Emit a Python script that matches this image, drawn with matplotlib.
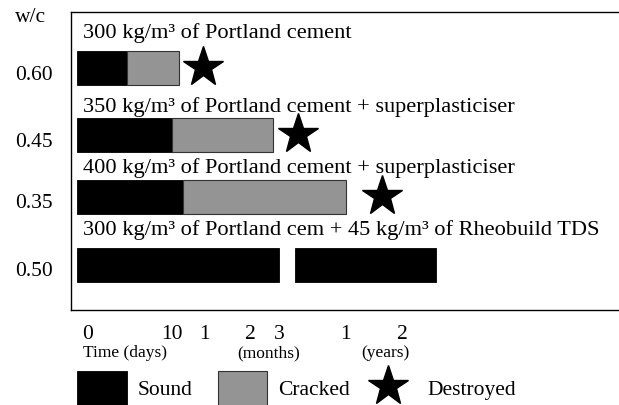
import numpy as np
import matplotlib
matplotlib.use('Agg')
import matplotlib.pyplot as plt
import matplotlib.transforms as mtransforms
from matplotlib.patches import Rectangle
from matplotlib.lines import Line2D

# --- data (times in days) ---
wc = ['0.60', '0.45', '0.35', '0.50']
mixes = ['300 kg/m³ of Portland cement',
         '350 kg/m³ of Portland cement + superplasticiser',
         '400 kg/m³ of Portland cement + superplasticiser',
         '300 kg/m³ of Portland cem + 45 kg/m³ of Rheobuild TDS']
sound_days = [6, 17, 24, 136]
cracked_days = [21, 111, 442, np.nan]
destroyed_days = [36.5, 215, 672, np.nan]
rheo_resume = 202      # second sound segment of the last mix
rheo_end = 1018

tick_days = [0, 10, 30, 60, 90, 365, 730]
tick_labels = ['0', '10', '1', '2', '3', '1', '2']
unit_labels = ['Time (days)', '(months)', '(years)']

# --- layout (pixels) ---
W, H = 619, 405
tick_px = [77, 161, 193, 239, 268, 334, 391]
row_px = [67.5, 135, 196.5, 264.5]
head_px = [38, 112, 173, 235]
bar_h = 34
FONT = 'Liberation Serif'
plt.rcParams['font.family'] = FONT

slope0 = (tick_px[1] - tick_px[0]) / (tick_days[1] - tick_days[0])
slope1 = (tick_px[-1] - tick_px[-2]) / (tick_days[-1] - tick_days[-2])


def fwd(d):
    d = np.asarray(d, float)
    out = np.interp(d, tick_days, tick_px)
    out = np.where(d < tick_days[0], tick_px[0] + (d - tick_days[0]) * slope0, out)
    out = np.where(d > tick_days[-1], tick_px[-1] + (d - tick_days[-1]) * slope1, out)
    return out


def inv(p):
    p = np.asarray(p, float)
    out = np.interp(p, tick_px, tick_days)
    out = np.where(p < tick_px[0], tick_days[0] + (p - tick_px[0]) / slope0, out)
    out = np.where(p > tick_px[-1], tick_days[-1] + (p - tick_px[-1]) / slope1, out)
    return out


fig = plt.figure(figsize=(W / 100, H / 100), dpi=100)
px = mtransforms.Affine2D().scale(1 / W, -1 / H).translate(0, 1) + fig.transFigure

top, bottom, left = 12, 309.5, 71
ax = fig.add_axes([left / W, (H - bottom) / H, (W + 71 - left) / W, (bottom - top) / H])
ax.set_xscale('function', functions=(fwd, inv))
ax.set_xlim(float(inv(left)), float(inv(W + 71)))
ax.set_ylim(bottom, top)
ax.set_xticks([])
ax.set_yticks([])
for s in ['left', 'top', 'bottom']:
    ax.spines[s].set_linewidth(1.0)
ax.spines['right'].set_visible(False)

black = 'black'
grey = '#949494'
for i in range(4):
    ax.barh(row_px[i], sound_days[i], left=0, height=bar_h, color=black,
            edgecolor=black, linewidth=0.6)
    if not np.isnan(cracked_days[i]):
        ax.barh(row_px[i], cracked_days[i] - sound_days[i], left=sound_days[i],
                height=bar_h, color=grey, edgecolor='#333333', linewidth=0.8)
    if not np.isnan(destroyed_days[i]):
        ax.plot(destroyed_days[i], row_px[i] - 1, marker='*', markersize=30,
                color='black', linestyle='none')
    fig.text(83 / W, 1 - head_px[i] / H, mixes[i], fontsize=16.1, va='baseline', ha='left')
    fig.text(53 / W, 1 - (row_px[i] + 12) / H, wc[i], fontsize=15.5, va='baseline', ha='right')

ax.barh(row_px[3], rheo_end - rheo_resume, left=rheo_resume, height=bar_h,
        color=black, edgecolor=black, linewidth=0.6)

fig.text(15 / W, 1 - 22 / H, 'w/c', fontsize=15.5, va='baseline', ha='left')

# time axis labels
shift = ax.transData + mtransforms.ScaledTranslation(11 / 100, 0, fig.dpi_scale_trans)
blend = mtransforms.blended_transform_factory(shift, px)
for d, lab in zip(tick_days, tick_labels):
    ax.text(d, 339, lab, transform=blend, fontsize=15.5, ha='center', va='baseline')
fig.text(83 / W, 1 - 357 / H, unit_labels[0], fontsize=12.5, va='baseline', ha='left')
fig.text(269 / W, 1 - 357 / H, unit_labels[1], fontsize=12.5, va='baseline', ha='center')
fig.text(385 / W, 1 - 357 / H, unit_labels[2], fontsize=12.5, va='baseline', ha='center')

# legend
fig.add_artist(Rectangle((77, 371), 50, 50, transform=px, facecolor=black,
                         edgecolor=black, linewidth=0.6))
fig.add_artist(Rectangle((218, 371), 49, 50, transform=px, facecolor=grey,
                         edgecolor='#333333', linewidth=0.8))
fig.add_artist(Line2D([388], [386], transform=px, marker='*', markersize=30,
                      color='black', linestyle='none'))
fig.text(138 / W, 1 - 395 / H, 'Sound', fontsize=15.5, va='baseline')
fig.text(278 / W, 1 - 395 / H, 'Cracked', fontsize=15.5, va='baseline')
fig.text(427 / W, 1 - 395 / H, 'Destroyed', fontsize=15.5, va='baseline')

fig.savefig('out.png', dpi=100)
